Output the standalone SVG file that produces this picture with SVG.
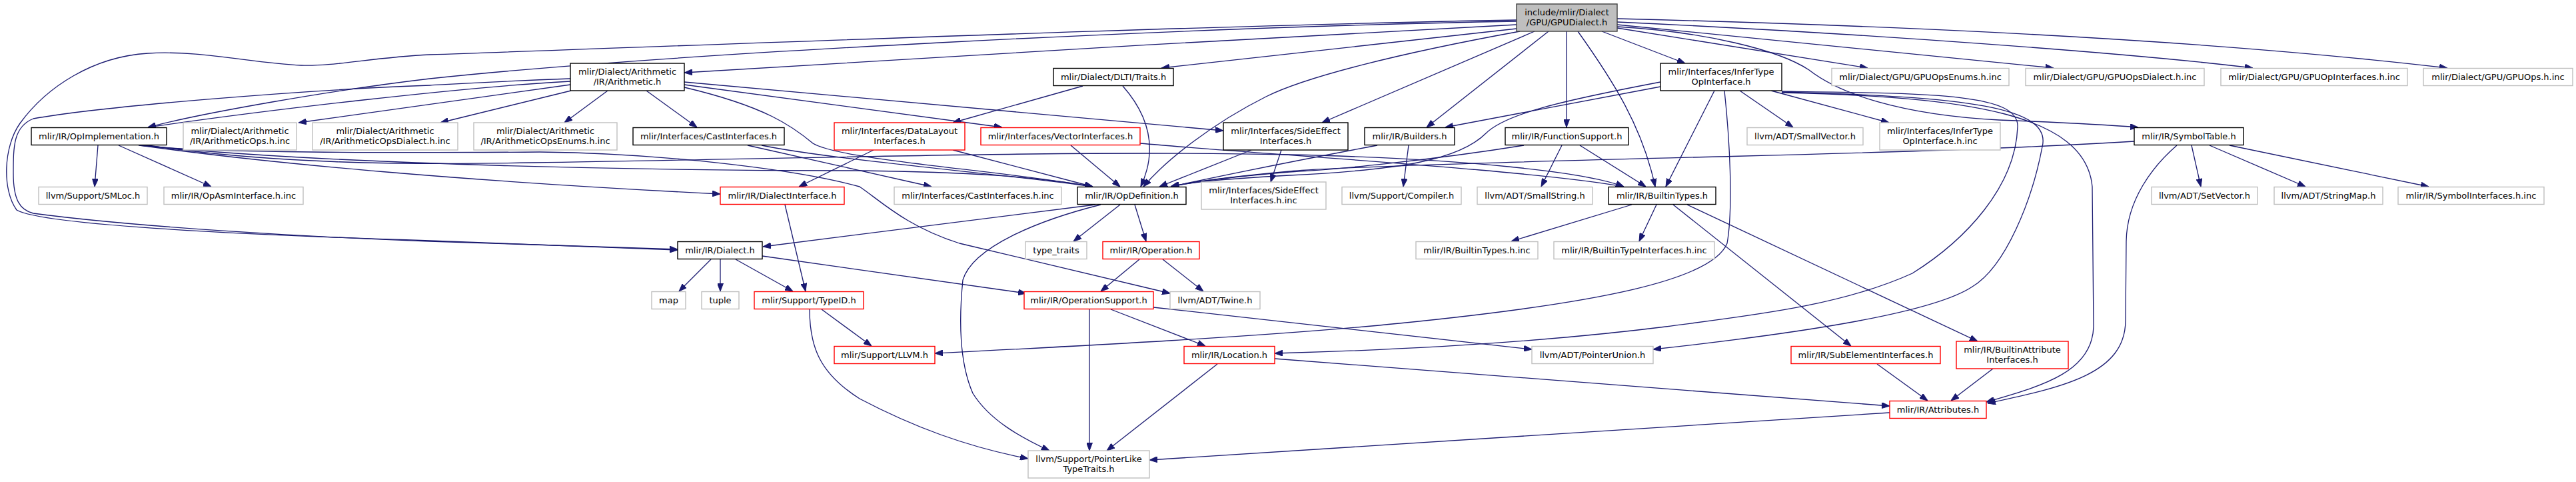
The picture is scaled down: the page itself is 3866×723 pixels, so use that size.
<svg xmlns="http://www.w3.org/2000/svg" width="3866" height="723" viewBox="0 0 3866 723">
<style>
text{font-family:"DejaVu Sans","Liberation Sans",sans-serif;font-size:13px;fill:#000;text-anchor:middle}
.n rect{fill:#fff;stroke-width:1.4}
.doc rect{stroke:#000}
.nd rect{stroke:#bfbfbf}
.red rect{stroke:#ff0000}
.main rect{fill:#bfbfbf;stroke:#404040}
#edges path{fill:none;stroke:#191970;stroke-width:1.3;marker-end:url(#a)}
</style>
<defs>
<marker id="a" viewBox="0 0 12 9" refX="12" refY="4.5" markerWidth="12" markerHeight="9" orient="auto" markerUnits="userSpaceOnUse"><path d="M0,0 L12,4.5 L0,9 z" fill="#191970" stroke="#191970" stroke-width="1"/></marker>
</defs>
<rect width="3866" height="723" fill="#fff"/>
<g id="edges">
<path d="M2276,37 C1900,55 1350,90 1027,109"/>
<path d="M2276,43 L1743,102"/>
<path d="M2281,47 C2100,80 1960,115 1900,145 C1820,185 1750,240 1716,280"/>
<path d="M2276,32 C1800,40 1000,80 645,118 C500,135 300,170 222,191"/>
<path d="M2276,30 C1800,38 1000,70 645,82 C560,86 500,100 452,98 C380,95 300,75 222,80 C140,85 70,130 30,185 C5,220 3,285 25,315 C60,335 300,350 645,361 L1017,375"/>
<path d="M2303,47 L1984,184"/>
<path d="M2324,47 L2141,191"/>
<path d="M2351,47 L2351,191"/>
<path d="M2368,47 C2420,120 2465,190 2484,280"/>
<path d="M2404,47 L2529,95"/>
<path d="M2427,40 C2560,48 2670,75 2715,105 C2760,140 2850,172 3000,180 C3100,184 3170,188 3209,191"/>
<path d="M2427,42 L2803,102"/>
<path d="M2427,37 L3082,102"/>
<path d="M2427,33 C2800,50 3200,80 3381,102"/>
<path d="M2427,28 C3000,42 3400,70 3673,102"/>
<path d="M856,118 C750,122 700,125 645,128 C450,135 150,160 50,178 C20,190 20,220 20,260 C20,300 30,315 50,320 C200,340 450,355 645,362 L1017,374"/>
<path d="M856,122 C700,130 400,165 222,191"/>
<path d="M856,127 L448,184"/>
<path d="M857,136 L661,184"/>
<path d="M912,136 L847,184"/>
<path d="M970,136 L1046,191"/>
<path d="M1027,123 L1836,196"/>
<path d="M1027,127 L1504,191"/>
<path d="M1027,131 C1150,160 1190,190 1220,215 C1260,240 1500,255 1640,280"/>
<path d="M1625,129 L1430,184"/>
<path d="M1685,129 C1730,180 1735,230 1712,280"/>
<path d="M2492,130 L2169,191"/>
<path d="M2492,123 C2350,150 2260,170 2230,200 C2190,240 2100,255 1935,263 C1850,268 1790,272 1758,280"/>
<path d="M2573,136 L2500,280"/>
<path d="M2611,136 L2691,191"/>
<path d="M2658,136 L2835,184"/>
<path d="M2588,136 C2598,230 2600,320 2592,365 C2570,420 2400,455 2100,485 C1900,505 1600,520 1403,530"/>
<path d="M2674,137 C2900,140 3030,140 3028,190 C3025,280 2950,360 2870,410 C2760,460 2620,474 2500,490 C2300,515 2100,525 1913,530"/>
<path d="M2674,138 C2950,145 3080,160 3065,220 C3050,300 3010,400 2960,430 C2900,470 2700,500 2481,524"/>
<path d="M2674,139 C2950,145 3130,170 3140,280 L3142,490 C3140,560 3060,580 2981,603"/>
<path d="M3267,218 C3230,250 3192,300 3191,362 L3190,480 C3190,560 3100,580 2983,605"/>
<path d="M3203,212 C3000,225 2700,232 2580,235 C2300,242 2000,250 1935,257 C1850,265 1790,272 1757,280"/>
<path d="M3289,218 L3303,280"/>
<path d="M3316,218 L3460,280"/>
<path d="M3346,218 L3645,280"/>
<path d="M2067,218 C1950,240 1850,260 1757,280"/>
<path d="M2114,218 L2106,280"/>
<path d="M2287,218 C2150,240 2000,255 1935,258 C1850,265 1790,273 1757,280"/>
<path d="M2344,218 L2313,280"/>
<path d="M2371,218 L2470,280"/>
<path d="M1878,225 L1740,280"/>
<path d="M1923,225 L1907,273"/>
<path d="M1607,218 L1681,280"/>
<path d="M1711,215 C1900,232 2300,255 2437,280"/>
<path d="M1430,225 L1640,280"/>
<path d="M1311,225 L1199,280"/>
<path d="M1143,218 C1250,240 1500,260 1640,280"/>
<path d="M1122,218 L1398,280"/>
<path d="M147,218 L142,280"/>
<path d="M178,218 L317,280"/>
<path d="M210,218 C400,245 700,272 1081,291"/>
<path d="M213,218 C500,248 1000,256 1290,256 C1450,258 1560,265 1640,280"/>
<path d="M215,217 C400,245 600,248 800,244 C1200,238 1600,225 1935,232 C2200,238 2380,258 2437,280"/>
<path d="M208,218 C300,228 500,230 810,228 C1000,230 1200,255 1290,280 C1320,300 1360,340 1440,365 L1756,440"/>
<path d="M1644,307 L1145,370"/>
<path d="M1681,307 L1611,362"/>
<path d="M1703,307 L1720,362"/>
<path d="M1652,307 C1560,330 1460,370 1445,420 C1440,470 1438,540 1460,590 C1485,630 1530,655 1575,676"/>
<path d="M1067,389 L1019,437"/>
<path d="M1081,389 L1081,437"/>
<path d="M1104,389 L1190,437"/>
<path d="M1144,384 L1540,440"/>
<path d="M1178,307 L1209,437"/>
<path d="M1233,464 L1308,519"/>
<path d="M1215,464 C1215,520 1230,560 1290,598 C1370,640 1450,670 1543,688"/>
<path d="M1710,389 L1652,437"/>
<path d="M1745,389 L1806,437"/>
<path d="M1635,464 L1635,676"/>
<path d="M1667,464 L1809,519"/>
<path d="M1731,461 L2299,524"/>
<path d="M1827,546 L1661,676"/>
<path d="M1913,538 L2836,609"/>
<path d="M2836,619 L1725,690"/>
<path d="M2817,546 L2893,601"/>
<path d="M2991,553 L2928,601"/>
<path d="M2449,307 L2268,362"/>
<path d="M2486,307 L2460,362"/>
<path d="M2511,307 L2778,519"/>
<path d="M2532,307 L2968,512"/>
</g>
<g id="n_main" class="n main"><rect x="2276" y="6" width="151" height="41"/><text x="2351.5" y="23">include/mlir/Dialect</text><text x="2351.5" y="38">/GPU/GPUDialect.h</text></g>
<g id="n_arith" class="n doc"><rect x="856" y="95" width="171" height="41"/><text x="941.5" y="112">mlir/Dialect/Arithmetic</text><text x="941.5" y="127">/IR/Arithmetic.h</text></g>
<g id="n_traits" class="n doc"><rect x="1581" y="102.5" width="180" height="26"/><text x="1671" y="120">mlir/Dialect/DLTI/Traits.h</text></g>
<g id="n_infer" class="n doc"><rect x="2492" y="95" width="182" height="41"/><text x="2583" y="112">mlir/Interfaces/InferType</text><text x="2583" y="127">OpInterface.h</text></g>
<g id="n_gpuenums" class="n nd"><rect x="2749" y="102.5" width="266" height="26"/><text x="2882" y="120">mlir/Dialect/GPU/GPUOpsEnums.h.inc</text></g>
<g id="n_gpudialectinc" class="n nd"><rect x="3040" y="102.5" width="268" height="26"/><text x="3174" y="120">mlir/Dialect/GPU/GPUOpsDialect.h.inc</text></g>
<g id="n_gpuopif" class="n nd"><rect x="3333" y="102.5" width="280" height="26"/><text x="3473" y="120">mlir/Dialect/GPU/GPUOpInterfaces.h.inc</text></g>
<g id="n_gpuops" class="n nd"><rect x="3637" y="102.5" width="224" height="26"/><text x="3749" y="120">mlir/Dialect/GPU/GPUOps.h.inc</text></g>
<g id="n_opimpl" class="n doc"><rect x="47" y="191.5" width="203" height="26"/><text x="148.5" y="209">mlir/IR/OpImplementation.h</text></g>
<g id="n_arithops" class="n nd"><rect x="275" y="184" width="170" height="41"/><text x="360" y="201">mlir/Dialect/Arithmetic</text><text x="360" y="216">/IR/ArithmeticOps.h.inc</text></g>
<g id="n_arithdialect" class="n nd"><rect x="469" y="184" width="218" height="41"/><text x="578" y="201">mlir/Dialect/Arithmetic</text><text x="578" y="216">/IR/ArithmeticOpsDialect.h.inc</text></g>
<g id="n_arithenums" class="n nd"><rect x="711" y="184" width="215" height="41"/><text x="818.5" y="201">mlir/Dialect/Arithmetic</text><text x="818.5" y="216">/IR/ArithmeticOpsEnums.h.inc</text></g>
<g id="n_cast" class="n doc"><rect x="950" y="191.5" width="227" height="26"/><text x="1063.5" y="209">mlir/Interfaces/CastInterfaces.h</text></g>
<g id="n_datalayout" class="n red"><rect x="1252" y="184" width="196" height="41"/><text x="1350" y="201">mlir/Interfaces/DataLayout</text><text x="1350" y="216">Interfaces.h</text></g>
<g id="n_vector" class="n red"><rect x="1472" y="191.5" width="239" height="26"/><text x="1591.5" y="209">mlir/Interfaces/VectorInterfaces.h</text></g>
<g id="n_sideeffect" class="n doc"><rect x="1836" y="184" width="187" height="41"/><text x="1929.5" y="201">mlir/Interfaces/SideEffect</text><text x="1929.5" y="216">Interfaces.h</text></g>
<g id="n_builders" class="n doc"><rect x="2048" y="191.5" width="135" height="26"/><text x="2115.5" y="209">mlir/IR/Builders.h</text></g>
<g id="n_funcsupport" class="n doc"><rect x="2259" y="191.5" width="185" height="26"/><text x="2351.5" y="209">mlir/IR/FunctionSupport.h</text></g>
<g id="n_smallvector" class="n nd"><rect x="2622" y="191.5" width="174" height="26"/><text x="2709" y="209">llvm/ADT/SmallVector.h</text></g>
<g id="n_infertypeinc" class="n nd"><rect x="2821" y="184" width="181" height="41"/><text x="2911.5" y="201">mlir/Interfaces/InferType</text><text x="2911.5" y="216">OpInterface.h.inc</text></g>
<g id="n_symboltable" class="n doc"><rect x="3203" y="191.5" width="164" height="26"/><text x="3285" y="209">mlir/IR/SymbolTable.h</text></g>
<g id="n_smloc" class="n nd"><rect x="58" y="280.5" width="163" height="26"/><text x="139.5" y="298">llvm/Support/SMLoc.h</text></g>
<g id="n_opasm" class="n nd"><rect x="246" y="280.5" width="209" height="26"/><text x="350.5" y="298">mlir/IR/OpAsmInterface.h.inc</text></g>
<g id="n_dialectif" class="n red"><rect x="1081" y="280.5" width="186" height="26"/><text x="1174" y="298">mlir/IR/DialectInterface.h</text></g>
<g id="n_castinc" class="n nd"><rect x="1342" y="280.5" width="251" height="26"/><text x="1467.5" y="298">mlir/Interfaces/CastInterfaces.h.inc</text></g>
<g id="n_opdef" class="n doc"><rect x="1617" y="280.5" width="163" height="26"/><text x="1698.5" y="298">mlir/IR/OpDefinition.h</text></g>
<g id="n_sideeffectinc" class="n nd"><rect x="1803" y="273" width="187" height="41"/><text x="1896.5" y="290">mlir/Interfaces/SideEffect</text><text x="1896.5" y="305">Interfaces.h.inc</text></g>
<g id="n_compiler" class="n nd"><rect x="2014" y="280.5" width="179" height="26"/><text x="2103.5" y="298">llvm/Support/Compiler.h</text></g>
<g id="n_smallstring" class="n nd"><rect x="2217" y="280.5" width="173" height="26"/><text x="2303.5" y="298">llvm/ADT/SmallString.h</text></g>
<g id="n_builtintypes" class="n doc"><rect x="2414" y="280.5" width="161" height="26"/><text x="2494.5" y="298">mlir/IR/BuiltinTypes.h</text></g>
<g id="n_setvector" class="n nd"><rect x="3229" y="280.5" width="159" height="26"/><text x="3308.5" y="298">llvm/ADT/SetVector.h</text></g>
<g id="n_stringmap" class="n nd"><rect x="3413" y="280.5" width="163" height="26"/><text x="3494.5" y="298">llvm/ADT/StringMap.h</text></g>
<g id="n_symbolinc" class="n nd"><rect x="3599" y="280.5" width="219" height="26"/><text x="3708.5" y="298">mlir/IR/SymbolInterfaces.h.inc</text></g>
<g id="n_dialect" class="n doc"><rect x="1017" y="362.5" width="127" height="26"/><text x="1080.5" y="380">mlir/IR/Dialect.h</text></g>
<g id="n_typetraits" class="n nd"><rect x="1539" y="362.5" width="92" height="26"/><text x="1585" y="380">type_traits</text></g>
<g id="n_operation" class="n red"><rect x="1655" y="362.5" width="145" height="26"/><text x="1727.5" y="380">mlir/IR/Operation.h</text></g>
<g id="n_builtintypesinc" class="n nd"><rect x="2125" y="362.5" width="183" height="26"/><text x="2216.5" y="380">mlir/IR/BuiltinTypes.h.inc</text></g>
<g id="n_builtintypeifinc" class="n nd"><rect x="2332" y="362.5" width="241" height="26"/><text x="2452.5" y="380">mlir/IR/BuiltinTypeInterfaces.h.inc</text></g>
<g id="n_map" class="n nd"><rect x="978" y="437.5" width="51" height="26"/><text x="1003.5" y="455">map</text></g>
<g id="n_tuple" class="n nd"><rect x="1053" y="437.5" width="56" height="26"/><text x="1081" y="455">tuple</text></g>
<g id="n_typeid" class="n red"><rect x="1132" y="437.5" width="164" height="26"/><text x="1214" y="455">mlir/Support/TypeID.h</text></g>
<g id="n_opsupport" class="n red"><rect x="1537" y="437.5" width="194" height="26"/><text x="1634" y="455">mlir/IR/OperationSupport.h</text></g>
<g id="n_twine" class="n nd"><rect x="1756" y="437.5" width="135" height="26"/><text x="1823.5" y="455">llvm/ADT/Twine.h</text></g>
<g id="n_llvmh" class="n red"><rect x="1252" y="519.5" width="151" height="26"/><text x="1327.5" y="537">mlir/Support/LLVM.h</text></g>
<g id="n_location" class="n red"><rect x="1777" y="519.5" width="136" height="26"/><text x="1845" y="537">mlir/IR/Location.h</text></g>
<g id="n_pointerunion" class="n nd"><rect x="2299" y="519.5" width="182" height="26"/><text x="2390" y="537">llvm/ADT/PointerUnion.h</text></g>
<g id="n_subelement" class="n red"><rect x="2688" y="519.5" width="224" height="26"/><text x="2800" y="537">mlir/IR/SubElementInterfaces.h</text></g>
<g id="n_builtinattrif" class="n red"><rect x="2936" y="512" width="168" height="41"/><text x="3020" y="529">mlir/IR/BuiltinAttribute</text><text x="3020" y="544">Interfaces.h</text></g>
<g id="n_attributes" class="n red"><rect x="2836" y="601.5" width="145" height="26"/><text x="2908.5" y="619">mlir/IR/Attributes.h</text></g>
<g id="n_pointerlike" class="n nd"><rect x="1543" y="676" width="182" height="41"/><text x="1634" y="693">llvm/Support/PointerLike</text><text x="1634" y="708">TypeTraits.h</text></g>
</svg>
